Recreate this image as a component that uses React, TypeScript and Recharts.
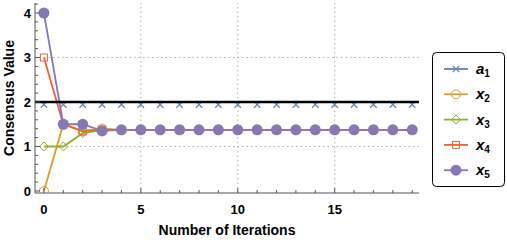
import React from 'react';
import { LineChart, Line, XAxis, YAxis, ReferenceLine, Legend } from 'recharts';

const iterations = [0,1,2,3,4,5,6,7,8,9,10,11,12,13,14,15,16,17,18,19];
const a1 = [2,2,2,2,2,2,2,2,2,2,2,2,2,2,2,2,2,2,2,2];
const x2 = [0,1.5,1.35,1.4,1.375,1.375,1.375,1.375,1.375,1.375,1.375,1.375,1.375,1.375,1.375,1.375,1.375,1.375,1.375,1.375];
const x3 = [1,1,1.3,1.37,1.375,1.375,1.375,1.375,1.375,1.375,1.375,1.375,1.375,1.375,1.375,1.375,1.375,1.375,1.375,1.375];
const x4 = [3,1.5,1.34,1.38,1.375,1.375,1.375,1.375,1.375,1.375,1.375,1.375,1.375,1.375,1.375,1.375,1.375,1.375,1.375,1.375];
const x5 = [4,1.5,1.5,1.35,1.375,1.375,1.375,1.375,1.375,1.375,1.375,1.375,1.375,1.375,1.375,1.375,1.375,1.375,1.375,1.375];

const xTicks = [0,1,2,3,4,5,6,7,8,9,10,11,12,13,14,15,16,17,18,19];
const yTicks = [0,0.2,0.4,0.6,0.8,1,1.2,1.4,1.6,1.8,2,2.2,2.4,2.6,2.8,3,3.2,3.4,3.6,3.8,4,4.2];
const xMajor = [0,5,10,15];
const yMajor = [0,1,2,3,4];
const xGrid = [5,10,15];
const yGrid = [1,3];

const data = iterations.map((it, i) => ({ it, a1: a1[i], x2: x2[i], x3: x3[i], x4: x4[i], x5: x5[i] }));

const C = { a1: '#5E81B5', x2: '#E19C24', x3: '#8FB032', x4: '#EB6235', x5: '#8778B3' };
const FONT = '"Liberation Sans", Arial, sans-serif';
const FRAME = '#555';
const LW = 1.8;

const isMajor = (v: number, majors: number[]) => majors.some((m) => Math.abs(m - v) < 1e-6);

const LeftTick = (p: any) => {
  const maj = isMajor(p.payload.value, yMajor);
  return (
    <g>
      <line x1={p.x} x2={p.x + (maj ? 5 : 3)} y1={p.y} y2={p.y} stroke={FRAME} strokeWidth={1} />
      {maj && (
        <text x={p.x - 4} y={p.y} dy="0.36em" textAnchor="end" fontSize={13} fontWeight="bold" fontFamily={FONT} fill="#000">
          {p.payload.value}
        </text>
      )}
    </g>
  );
};
const RightTick = (p: any) => {
  const maj = isMajor(p.payload.value, yMajor);
  return <line x1={p.x} x2={p.x - (maj ? 5 : 3)} y1={p.y} y2={p.y} stroke={FRAME} strokeWidth={1} />;
};
const BottomTick = (p: any) => {
  const maj = isMajor(p.payload.value, xMajor);
  return (
    <g>
      <line x1={p.x} x2={p.x} y1={p.y} y2={p.y - (maj ? 5 : 3)} stroke={FRAME} strokeWidth={1} />
      {maj && (
        <text x={p.x} y={p.y + 21} textAnchor="middle" fontSize={13} fontWeight="bold" fontFamily={FONT} fill="#000">
          {p.payload.value}
        </text>
      )}
    </g>
  );
};
const TopTick = (p: any) => {
  const maj = isMajor(p.payload.value, xMajor);
  return <line x1={p.x} x2={p.x} y1={p.y} y2={p.y + (maj ? 5 : 3)} stroke={FRAME} strokeWidth={1} />;
};

const CrossMark = ({ cx, cy, color, dy = 0 }: any) => (
  <g stroke={color} strokeWidth={1.2}>
    <line x1={cx - 3.2} y1={cy + dy - 3.2} x2={cx + 3.2} y2={cy + dy + 3.2} />
    <line x1={cx - 3.2} y1={cy + dy + 3.2} x2={cx + 3.2} y2={cy + dy - 3.2} />
  </g>
);
const OpenCircle = ({ cx, cy, color }: any) => <circle cx={cx} cy={cy} r={4.5} fill="none" stroke={color} strokeWidth={1} />;
const Diamond = ({ cx, cy, color }: any) => (
  <polygon points={`${cx},${cy - 4.5} ${cx + 4.5},${cy} ${cx},${cy + 4.5} ${cx - 4.5},${cy}`} fill="none" stroke={color} strokeWidth={1} />
);
const Square = ({ cx, cy, color }: any) => <rect x={cx - 3.5} y={cy - 3.5} width={7} height={7} fill="none" stroke={color} strokeWidth={1} />;
const FilledCircle = ({ cx, cy, color }: any) => <circle cx={cx} cy={cy} r={5.5} fill={color} stroke="none" />;

const legendItems = [
  { key: 'a1', base: 'a', sub: '1', Mark: CrossMark },
  { key: 'x2', base: 'x', sub: '2', Mark: OpenCircle },
  { key: 'x3', base: 'x', sub: '3', Mark: Diamond },
  { key: 'x4', base: 'x', sub: '4', Mark: Square },
  { key: 'x5', base: 'x', sub: '5', Mark: FilledCircle },
];

const LegendBox = () => (
  <svg width={74} height={136} style={{ display: 'block' }}>
    <rect x={0.5} y={0.5} width={72} height={134} rx={4} ry={4} fill="#fff" stroke="#000" strokeWidth={1} />
    {legendItems.map((it, i) => {
      const cy = 17 + i * 25.3;
      const color = (C as any)[it.key];
      const M = it.Mark;
      return (
        <g key={it.key}>
          <line x1={12} x2={36} y1={cy} y2={cy} stroke={color} strokeWidth={LW} />
          <M cx={24} cy={cy} color={color} />
          <text x={44} y={cy + 5} fontSize={15} fontWeight="bold" fontStyle="italic" fontFamily={FONT} fill="#000">
            <tspan>{it.base}</tspan>
            <tspan fontSize={10} dy={3} fontStyle="normal">{it.sub}</tspan>
          </text>
        </g>
      );
    })}
  </svg>
);

export default function App() {
  return (
    <div style={{ position: 'absolute', left: 0, top: 0 }}>
      <LineChart width={507} height={240} data={data} margin={{ top: 3, right: 88, bottom: 5, left: 0 }}>
        <XAxis
          dataKey="it"
          type="number"
          domain={[-0.46, 19.35]}
          ticks={xTicks}
          allowDataOverflow
          height={42}
          tickSize={0}
          tickMargin={0}
          tickLine={false}
          axisLine={{ stroke: FRAME, strokeWidth: 1 }}
          tick={<BottomTick />}
          interval={0}
          label={{ value: 'Number of Iterations', position: 'insideBottom', offset: 0, style: { fontSize: 14, fontWeight: 'bold', fontFamily: FONT, fill: '#000' } }}
        />
        <XAxis
          xAxisId="top"
          orientation="top"
          dataKey="it"
          type="number"
          domain={[-0.46, 19.35]}
          ticks={xTicks}
          allowDataOverflow
          height={0}
          tickSize={0}
          tickMargin={0}
          tickLine={false}
          axisLine={{ stroke: FRAME, strokeWidth: 1 }}
          tick={<TopTick />}
          interval={0}
        />
        <YAxis
          type="number"
          domain={[-0.045, 4.225]}
          ticks={yTicks}
          allowDataOverflow
          width={35}
          tickSize={0}
          tickMargin={0}
          tickLine={false}
          axisLine={{ stroke: FRAME, strokeWidth: 1 }}
          tick={<LeftTick />}
          interval={0}
          label={{ value: 'Consensus Value', angle: -90, position: 'insideLeft', offset: 9, style: { textAnchor: 'middle', fontSize: 14, fontWeight: 'bold', fontFamily: FONT, fill: '#000' } }}
        />
        <YAxis
          yAxisId="right"
          orientation="right"
          type="number"
          domain={[-0.045, 4.225]}
          ticks={yTicks}
          allowDataOverflow
          width={0}
          tickSize={0}
          tickMargin={0}
          tickLine={false}
          axisLine={{ stroke: FRAME, strokeWidth: 1 }}
          tick={<RightTick />}
          interval={0}
        />
        {xGrid.map((v) => (
          <ReferenceLine key={'gx' + v} x={v} stroke="#b0b0b0" strokeDasharray="1.5 3" strokeWidth={1} />
        ))}
        {yGrid.map((v) => (
          <ReferenceLine key={'gy' + v} y={v} stroke="#b0b0b0" strokeDasharray="1.5 3" strokeWidth={1} />
        ))}
        <Line dataKey="a1" stroke={C.a1} strokeWidth={LW} isAnimationActive={false}
          dot={(p: any) => <CrossMark key={'a' + p.index} cx={p.cx} cy={p.cy} dy={2.5} color={C.a1} />} activeDot={false} />
        <ReferenceLine y={2} stroke="#000" strokeWidth={2.4} {...({ zIndex: 650 } as any)} />
        <Line dataKey="x2" stroke={C.x2} strokeWidth={LW} isAnimationActive={false}
          dot={(p: any) => <OpenCircle key={'b' + p.index} cx={p.cx} cy={p.cy} color={C.x2} />} activeDot={false} />
        <Line dataKey="x3" stroke={C.x3} strokeWidth={LW} isAnimationActive={false}
          dot={(p: any) => <Diamond key={'c' + p.index} cx={p.cx} cy={p.cy} color={C.x3} />} activeDot={false} />
        <Line dataKey="x4" stroke={C.x4} strokeWidth={LW} isAnimationActive={false}
          dot={(p: any) => <Square key={'d' + p.index} cx={p.cx} cy={p.cy} color={C.x4} />} activeDot={false} />
        <Line dataKey="x5" stroke={C.x5} strokeWidth={LW} isAnimationActive={false}
          dot={(p: any) => <FilledCircle key={'e' + p.index} cx={p.cx} cy={p.cy} color={C.x5} />} activeDot={false} />
        <Legend
          layout="vertical"
          align="center"
          verticalAlign="middle"
          content={() => <LegendBox />}
          wrapperStyle={{ left: 432, top: 52, width: 74, height: 136 }}
        />
      </LineChart>
    </div>
  );
}
